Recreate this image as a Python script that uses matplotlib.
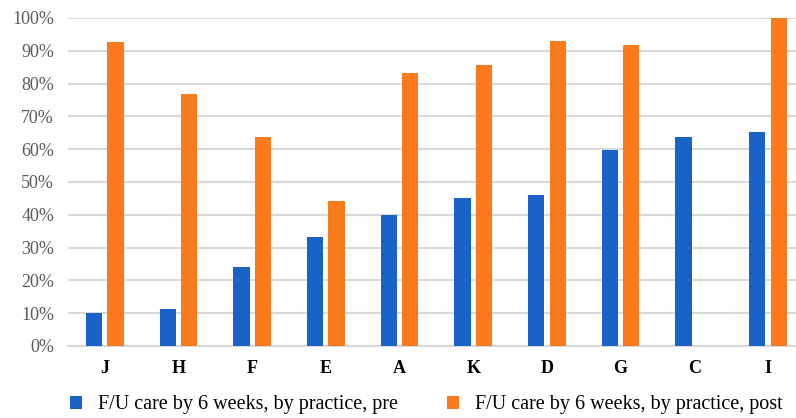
import numpy as np
import matplotlib
matplotlib.use('Agg')
import matplotlib.pyplot as plt
from matplotlib.ticker import PercentFormatter

# follow-up care by 6 weeks, per practice (%)
practices = ['J', 'H', 'F', 'E', 'A', 'K', 'D', 'G', 'C', 'I']
pre = [10.0, 11.3, 24.1, 33.2, 39.8, 45.0, 46.1, 59.8, 63.6, 65.2]
post = [92.8, 76.9, 63.7, 44.3, 83.3, 85.6, 92.9, 91.9, np.nan, 100.0]

label_pre = 'F/U care by 6 weeks, by practice, pre'
label_post = 'F/U care by 6 weeks, by practice, post'

BLUE = '#1a63c6'
ORANGE = '#fb7b1c'
GRID = '#d9d9d9'

plt.rcParams['font.family'] = ['Liberation Serif', 'DejaVu Serif']

fig = plt.figure(figsize=(7.96, 4.18), dpi=100)
ax = fig.add_axes([68 / 796, 1 - 346 / 418, 1 - 68 / 796, 328 / 418])

x = np.arange(len(practices))
width = 0.22
ax.bar(x - 0.146, pre, width, color=BLUE, label=label_pre, zorder=3)
ax.bar(x + 0.146, post, width, color=ORANGE, label=label_post, zorder=3)

ax.set_ylim(0, 100)
ax.set_xlim(-0.5, (796 - 68) / 73.67 - 0.5)
ax.set_yticks(range(0, 101, 10))
ax.yaxis.set_major_formatter(PercentFormatter(decimals=0))
ax.grid(axis='y', color=GRID, linewidth=1.5, zorder=0)
ax.set_axisbelow(True)

ax.set_xticks(x)
ax.set_xticklabels(practices, fontweight='bold', fontsize=13)
ax.tick_params(axis='x', length=0, pad=10, colors='black')
ax.tick_params(axis='y', length=0, pad=10, labelsize=13, labelcolor='#595959')

for side in ('top', 'right', 'left'):
    ax.spines[side].set_visible(False)
ax.spines['bottom'].set_color(GRID)
ax.spines['bottom'].set_linewidth(1.5)

fig.legend(loc='center left', bbox_to_anchor=(70 / 796, 1 - 405 / 418),
           ncol=2, frameon=False, fontsize=14.5,
           handlelength=0.6, handleheight=0.6, handletextpad=0.8,
           columnspacing=2.4, borderpad=0, borderaxespad=0)

fig.savefig('out.png', dpi=100)
